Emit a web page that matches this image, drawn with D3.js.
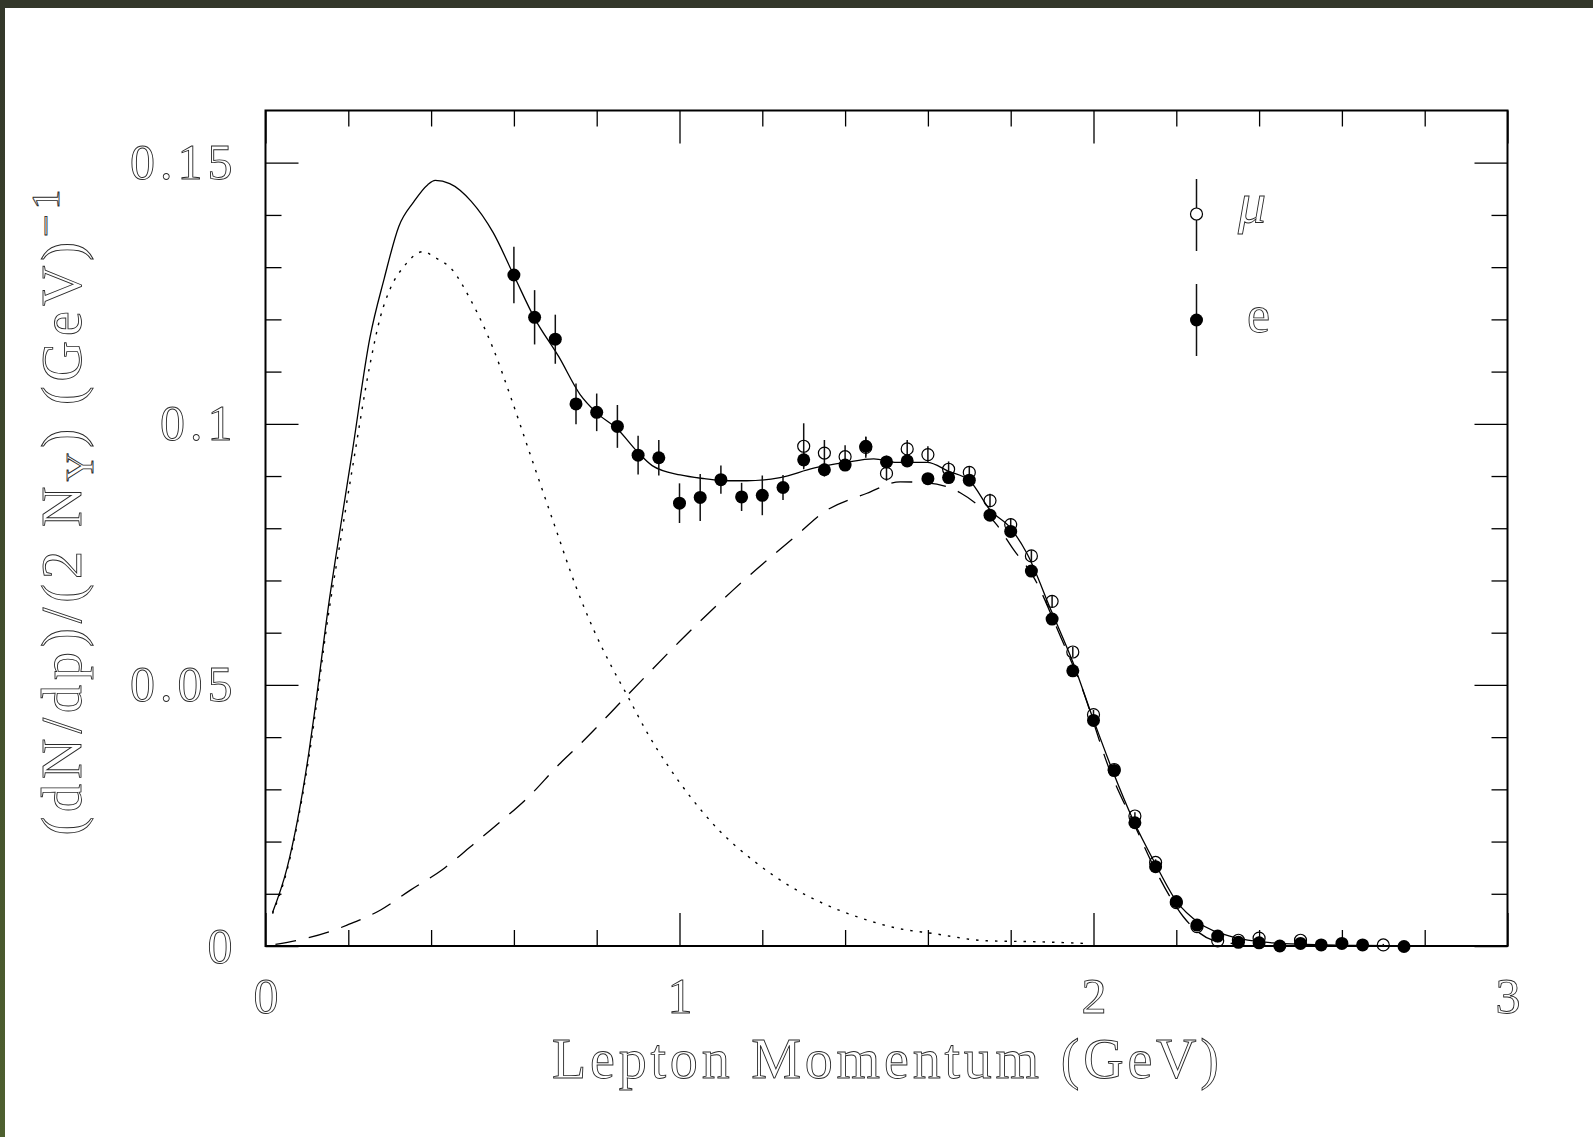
<!DOCTYPE html>
<html>
<head>
<meta charset="utf-8">
<script src="https://cdn.jsdelivr.net/npm/d3@7"></script>
<style>
  body { margin: 0; background: #fff; }
  svg { display: block; }
</style>
</head>
<body>
<div id="chart"></div>
<script>
// electrons (filled points)
const electronP = [0.60, 0.65, 0.70, 0.75, 0.80, 0.85, 0.90, 0.95, 1.00, 1.05, 1.10, 1.15, 1.20, 1.25,
  1.30, 1.35, 1.40, 1.45, 1.50, 1.55, 1.60, 1.65, 1.70, 1.75, 1.80, 1.85, 1.90, 1.95, 2.00, 2.05,
  2.10, 2.15, 2.20, 2.25, 2.30, 2.35, 2.40, 2.45, 2.50, 2.55, 2.60, 2.65, 2.75]
const electronRate = [0.1285, 0.1204, 0.1162, 0.1038, 0.1022, 0.0995, 0.0940, 0.0935, 0.0848, 0.0859, 0.0893, 0.0860, 0.0863, 0.0878,
  0.0931, 0.0912, 0.0921, 0.0957, 0.0927, 0.0929, 0.0895, 0.0897, 0.0892, 0.0825, 0.0794, 0.0718, 0.0626, 0.0527, 0.0432, 0.0336,
  0.0236, 0.0152, 0.0085, 0.0040, 0.0019, 0.0007, 0.0006, 0.0000, 0.0005, 0.0002, 0.0005, 0.0002, -0.0001]
const electronErr = [0.0054, 0.0052, 0.0047, 0.0039, 0.0036, 0.0041, 0.0037, 0.0034, 0.0038, 0.0045, 0.0027, 0.0027, 0.0038, 0.0024,
  0.0014, 0.0013, 0.0011, 0.0018, 0.0012, 0.0011, 0.0010, 0.0010, 0.0010, 0.0010, 0.0010, 0.0009, 0.0009, 0.0009, 0.0008, 0.0007,
  0.0006, 0.0005, 0.0004, 0.0003, 0.0003, 0.0002, 0.0002, 0.0002, 0.0002, 0.0002, 0.0002, 0.0002, 0.0002]

// muons (open points)
const muonP = [1.30, 1.35, 1.40, 1.45, 1.50, 1.55, 1.60, 1.65, 1.70, 1.75, 1.80, 1.85, 1.90, 1.95, 2.00,
  2.05, 2.10, 2.15, 2.20, 2.25, 2.30, 2.35, 2.40, 2.50, 2.70]
const muonRate = [0.0957, 0.0944, 0.0937, 0.0955, 0.0905, 0.0952, 0.0941, 0.0913, 0.0907, 0.0853, 0.0807, 0.0747, 0.0660, 0.0563, 0.0443,
  0.0338, 0.0249, 0.0160, 0.0083, 0.0037, 0.0010, 0.0011, 0.0015, 0.0011, 0.0002]
const muonErr = [0.0044, 0.0025, 0.0022, 0.0020, 0.0014, 0.0017, 0.0016, 0.0015, 0.0012, 0.0013, 0.0012, 0.0011, 0.0011, 0.0010, 0.0009,
  0.0008, 0.0007, 0.0006, 0.0005, 0.0004, 0.0003, 0.0003, 0.0003, 0.0003, 0.0002]

// fit curves, [momentum, rate]
const totalFit = [[0.017, 0.0064], [0.052, 0.0149], [0.105, 0.0372], [0.117, 0.0439], [0.153, 0.0656], [0.185, 0.0822],
  [0.209, 0.0943], [0.252, 0.1164], [0.287, 0.1279], [0.322, 0.1378], [0.358, 0.1425], [0.392, 0.1458], [0.410, 0.1466],
  [0.445, 0.1460], [0.497, 0.1426], [0.550, 0.1366], [0.600, 0.1284], [0.650, 0.1202], [0.708, 0.1129], [0.760, 0.1056],
  [0.800, 0.1021], [0.850, 0.0990], [0.900, 0.0945], [0.934, 0.0920], [1.002, 0.0902], [1.060, 0.0895], [1.115, 0.0891],
  [1.163, 0.0891], [1.243, 0.0897], [1.324, 0.0915], [1.400, 0.0926], [1.469, 0.0933], [1.525, 0.0926], [1.598, 0.0926],
  [1.650, 0.0909], [1.702, 0.0890], [1.750, 0.0835], [1.800, 0.0800], [1.839, 0.0752], [1.899, 0.0640], [1.951, 0.0542],
  [2.000, 0.0433], [2.044, 0.0340], [2.096, 0.0241], [2.149, 0.0158], [2.201, 0.0085], [2.257, 0.0043], [2.338, 0.0017],
  [2.434, 0.0006], [2.515, 0.0003], [2.650, 0.0001], [2.780, 0.0000]]

const softFit = [[0.017, 0.0062], [0.052, 0.0145], [0.105, 0.0362], [0.153, 0.0640], [0.185, 0.0795], [0.212, 0.0925],
  [0.253, 0.1116], [0.278, 0.1206], [0.302, 0.1260], [0.334, 0.1301], [0.382, 0.1330], [0.406, 0.1320], [0.451, 0.1295],
  [0.495, 0.1238], [0.551, 0.1142], [0.592, 0.1052], [0.640, 0.0940], [0.698, 0.0806], [0.750, 0.0688], [0.793, 0.0605],
  [0.836, 0.0535], [0.875, 0.0478], [0.923, 0.0407], [0.974, 0.0343], [1.026, 0.0286], [1.095, 0.0222], [1.181, 0.0162],
  [1.268, 0.0114], [1.354, 0.0079], [1.440, 0.0053], [1.526, 0.0034], [1.612, 0.0024], [1.742, 0.0010], [1.871, 0.0008],
  [1.975, 0.0005]]

const hardFit = [[0.024, 0.0003], [0.161, 0.0029], [0.197, 0.0040], [0.278, 0.0069], [0.350, 0.0107], [0.427, 0.0146],
  [0.495, 0.0190], [0.563, 0.0235], [0.632, 0.0283], [0.712, 0.0350], [0.754, 0.0382], [0.875, 0.0481], [1.000, 0.0583],
  [1.130, 0.0682], [1.298, 0.0797], [1.340, 0.0826], [1.453, 0.0867], [1.533, 0.0889], [1.598, 0.0887], [1.678, 0.0868],
  [1.766, 0.0807], [1.807, 0.0759], [1.855, 0.0707], [1.920, 0.0593], [1.968, 0.0503], [2.040, 0.0335], [2.100, 0.0230],
  [2.150, 0.0145], [2.217, 0.0056], [2.289, 0.0011], [2.350, 0.0004]]

const xMajor = [0, 1, 2, 3]
const xMinor = [0.2, 0.4, 0.6, 0.8, 1.2, 1.4, 1.6, 1.8, 2.2, 2.4, 2.6, 2.8]
const yMajor = [0, 0.05, 0.1, 0.15]
const yMinor = [0.01, 0.02, 0.03, 0.04, 0.06, 0.07, 0.08, 0.09, 0.11, 0.12, 0.13, 0.14]
const yLabels = ["0", "0.05", "0.1", "0.15"]

const width = 1593
const height = 1137
const font = '"Liberation Serif", "DejaVu Serif", serif'

const x = d3.scaleLinear().domain([0, 3]).range([265.5, 1507.5])
const y = d3.scaleLinear().domain([0, 0.16]).range([946, 110.5])

const svg = d3.select("#chart").append("svg")
    .attr("width", width)
    .attr("height", height)

// page frame
const grad = svg.append("defs").append("linearGradient")
    .attr("id", "frame").attr("x1", 0).attr("y1", 0).attr("x2", 0).attr("y2", 1)
grad.append("stop").attr("offset", 0).attr("stop-color", "#33372a")
grad.append("stop").attr("offset", 1).attr("stop-color", "#4e602f")
svg.append("rect").attr("width", width).attr("height", height).attr("fill", "url(#frame)")
svg.append("rect").attr("x", 5).attr("y", 8).attr("width", width - 5).attr("height", height - 8).attr("fill", "#fff")

function outlined(sel) {
  sel.attr("fill", "#fff").attr("stroke", "#2a2a2a").attr("stroke-width", 0.9)
}

// axes: ticks point into the plot on all four sides
function styleAxis(g) {
  g.select(".domain").remove()
  g.selectAll(".tick line").attr("stroke", "#000").attr("stroke-width", 1.3)
}

svg.append("g").attr("transform", `translate(0,${y(0)})`)
    .call(d3.axisBottom(x).tickValues(xMinor).tickSize(-16).tickFormat(""))
    .call(styleAxis)
svg.append("g").attr("transform", `translate(0,${y(0.16)})`)
    .call(d3.axisTop(x).tickValues(xMinor).tickSize(-16).tickFormat(""))
    .call(styleAxis)
svg.append("g").attr("transform", `translate(0,${y(0.16)})`)
    .call(d3.axisTop(x).tickValues(xMajor).tickSize(-33).tickFormat(""))
    .call(styleAxis)
svg.append("g").attr("transform", `translate(${x(0)},0)`)
    .call(d3.axisLeft(y).tickValues(yMinor).tickSize(-16).tickFormat(""))
    .call(styleAxis)
svg.append("g").attr("transform", `translate(${x(3)},0)`)
    .call(d3.axisRight(y).tickValues(yMinor).tickSize(-16).tickFormat(""))
    .call(styleAxis)
svg.append("g").attr("transform", `translate(${x(3)},0)`)
    .call(d3.axisRight(y).tickValues(yMajor).tickSize(-33).tickFormat(""))
    .call(styleAxis)

const xAxis = svg.append("g").attr("transform", `translate(0,${y(0)})`)
    .call(d3.axisBottom(x).tickValues(xMajor).tickSizeInner(-33).tickSizeOuter(0).tickPadding(31).tickFormat(d3.format("d")))
    .call(styleAxis)
    .attr("font-family", font).attr("font-size", 50)
xAxis.selectAll("text").call(outlined)

const yAxis = svg.append("g").attr("transform", `translate(${x(0)},0)`)
    .call(d3.axisLeft(y).tickValues(yMajor).tickSizeInner(-33).tickSizeOuter(0).tickPadding(28)
      .tickFormat((d, i) => yLabels[i]))
    .call(styleAxis)
    .attr("font-family", font).attr("font-size", 50)
yAxis.selectAll("text").call(outlined).style("letter-spacing", "5px")

// frame box
svg.append("rect")
    .attr("x", x(0)).attr("y", y(0.16))
    .attr("width", x(3) - x(0)).attr("height", y(0) - y(0.16))
    .attr("fill", "none").attr("stroke", "#000").attr("stroke-width", 2)

// curves
const line = d3.line().x(d => x(d[0])).y(d => y(d[1])).curve(d3.curveMonotoneX)

svg.append("path").datum(softFit).attr("d", line)
    .attr("fill", "none").attr("stroke", "#000").attr("stroke-width", 1.4)
    .attr("stroke-dasharray", "2.5,7")
svg.append("path").datum(hardFit).attr("d", line)
    .attr("fill", "none").attr("stroke", "#000").attr("stroke-width", 1.3)
    .attr("stroke-dasharray", "21,13")
svg.append("path").datum(totalFit).attr("d", line)
    .attr("fill", "none").attr("stroke", "#000").attr("stroke-width", 1.3)

// data
const electrons = electronP.map((p, i) => ({ p, v: electronRate[i], e: electronErr[i] }))
const muons = muonP.map((p, i) => ({ p, v: muonRate[i], e: muonErr[i] }))

function errorBars(data) {
  svg.append("g").selectAll("line").data(data).join("line")
      .attr("x1", d => x(d.p)).attr("x2", d => x(d.p))
      .attr("y1", d => y(d.v - d.e)).attr("y2", d => y(d.v + d.e))
      .attr("stroke", "#111").attr("stroke-width", 1.5)
}
errorBars(muons)
errorBars(electrons)

svg.append("g").selectAll("circle").data(muons).join("circle")
    .attr("cx", d => x(d.p)).attr("cy", d => y(d.v)).attr("r", 6)
    .attr("fill", "none").attr("stroke", "#000").attr("stroke-width", 1.2)

svg.append("g").selectAll("circle").data(electrons).join("circle")
    .attr("cx", d => x(d.p)).attr("cy", d => y(d.v)).attr("r", 6.5)
    .attr("fill", "#000")

// legend
const legend = svg.append("g")
legend.append("line").attr("x1", 1196.5).attr("x2", 1196.5).attr("y1", 179).attr("y2", 251)
    .attr("stroke", "#111").attr("stroke-width", 1.5)
legend.append("circle").attr("cx", 1196.5).attr("cy", 214).attr("r", 6)
    .attr("fill", "#fff").attr("stroke", "#000").attr("stroke-width", 1.2)
legend.append("line").attr("x1", 1196.5).attr("x2", 1196.5).attr("y1", 284).attr("y2", 356)
    .attr("stroke", "#111").attr("stroke-width", 1.5)
legend.append("circle").attr("cx", 1196.5).attr("cy", 320).attr("r", 6.5).attr("fill", "#000")
legend.append("text").attr("x", 1238).attr("y", 222)
    .attr("font-family", font).attr("font-size", 56).attr("font-style", "italic")
    .text("μ").call(outlined)
legend.append("text").attr("x", 1247).attr("y", 332)
    .attr("font-family", font).attr("font-size", 52)
    .text("e").call(outlined)

// axis titles
svg.append("text")
    .attr("x", 885.5).attr("y", 1078)
    .attr("text-anchor", "middle")
    .attr("font-family", font).attr("font-size", 56)
    .attr("textLength", 667).attr("lengthAdjust", "spacing")
    .text("Lepton Momentum (GeV)")
    .call(outlined)

const yTitle = svg.append("text")
    .attr("transform", "translate(81,510) rotate(-90)")
    .attr("text-anchor", "middle")
    .attr("font-family", font).attr("font-size", 56)
    .style("letter-spacing", "5px")
    .call(outlined)
yTitle.append("tspan").text("(dN/dp)/(2 N")
yTitle.append("tspan").attr("font-size", 40).attr("dy", 12).text("Υ")
yTitle.append("tspan").attr("dy", -12).text(") (GeV)")
yTitle.append("tspan").attr("font-size", 40).attr("dy", -22).text("−1")
</script>
</body>
</html>
